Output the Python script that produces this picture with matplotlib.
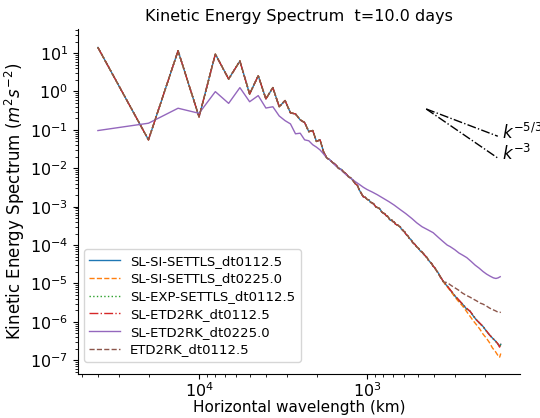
import numpy as np
import matplotlib
matplotlib.use("Agg")
import matplotlib.pyplot as plt
from matplotlib.ticker import LogLocator, NullFormatter

# wavenumbers shared by the five near-identical runs (up to n=114)
n_main = [1, 2, 3, 4, 5, 6, 7, 8, 9, 10, 11, 12, 13, 14, 15, 16, 17, 18, 19, 20,
          21, 22, 23, 24, 25, 26, 27, 28, 29, 30, 31, 32, 33, 34, 35, 36, 37, 38,
          39, 40, 41, 42, 43, 44, 45, 46, 47, 48, 49, 50, 51, 52, 53, 54, 55, 56,
          57, 58, 59, 60, 61, 62, 63, 64, 65, 66, 67, 68, 69, 70, 71, 72, 73, 74,
          75, 77, 79, 81, 83, 85, 87, 89, 91, 93, 95, 97, 99, 101, 104, 106, 109,
          111, 114]
ke_main = [14.0, 0.055, 11.5, 0.218, 9.4, 2.11, 6.2, 0.86, 2.57, 0.64, 1.26, 0.40,
           0.58, 0.277, 0.26, 0.182, 0.155, 0.090, 0.096, 0.050, 0.055, 0.0273,
           0.0187, 0.0166, 0.014, 0.0125, 0.010, 0.0095, 0.008, 0.0072, 0.006,
           0.0056, 0.0048, 0.004, 0.0036, 0.0027, 0.0022, 0.0018, 0.00175, 0.00155,
           1.5e-3, 1.3e-3, 1.25e-3, 1.15e-3, 1.0e-3, 9.5e-4, 9.2e-4, 8.4e-4, 7.2e-4,
           6.8e-4, 6.5e-4, 5.8e-4, 5.6e-4, 5.0e-4, 4.4e-4, 4.5e-4, 4.1e-4, 4.0e-4,
           3.5e-4, 3.4e-4, 3.3e-4, 3.1e-4, 3.0e-4, 2.6e-4, 2.5e-4, 2.3e-4, 2.2e-4,
           1.95e-4, 1.8e-4, 1.75e-4, 1.55e-4, 1.45e-4, 1.4e-4, 1.25e-4, 1.15e-4,
           1.05e-4, 9.0e-5, 8.2e-5, 7.0e-5, 6.6e-5, 5.8e-5, 5.2e-5, 4.7e-5, 4.0e-5,
           3.6e-5, 3.3e-5, 2.8e-5, 2.6e-5, 2.1e-5, 1.9e-5, 1.5e-5, 1.35e-5, 1.1e-5]

# tails (n > 114) where the runs separate
n_tail = [120, 127, 134, 141, 148, 156, 164, 172, 180, 188, 196, 205, 214, 223,
          232, 240, 246, 250]
ke_tail_settls = [8.5e-6, 6.2e-6, 4.6e-6, 3.6e-6, 2.9e-6, 2.2e-6, 1.9e-6, 1.4e-6,
                  1.1e-6, 9.0e-7, 7.6e-7, 5.8e-7, 4.6e-7, 3.8e-7, 3.2e-7, 2.7e-7,
                  2.3e-7, 2.6e-7]
ke_tail_settls_225 = [8.2e-6, 6.0e-6, 4.3e-6, 3.3e-6, 2.6e-6, 1.9e-6, 1.4e-6,
                      1.05e-6, 8.2e-7, 6.4e-7, 4.8e-7, 3.8e-7, 2.9e-7, 2.1e-7,
                      1.7e-7, 1.35e-7, 1.2e-7, 1.5e-7]
ke_tail_exp = [8.6e-6, 6.2e-6, 4.6e-6, 3.6e-6, 2.9e-6, 2.2e-6, 1.9e-6, 1.4e-6,
               1.1e-6, 9.0e-7, 7.6e-7, 5.8e-7, 4.6e-7, 3.8e-7, 3.2e-7, 2.7e-7,
               2.3e-7, 2.6e-7]
ke_tail_etd = [8.6e-6, 6.3e-6, 4.7e-6, 3.7e-6, 2.9e-6, 2.3e-6, 1.9e-6, 1.45e-6,
               1.1e-6, 9.2e-7, 7.6e-7, 5.9e-7, 4.6e-7, 3.8e-7, 3.2e-7, 2.7e-7,
               2.2e-7, 2.8e-7]
ke_tail_etd_only = [1.05e-5, 8.8e-6, 7.6e-6, 6.6e-6, 5.6e-6, 4.9e-6, 4.4e-6, 3.9e-6,
                    3.5e-6, 3.1e-6, 2.9e-6, 2.6e-6, 2.3e-6, 2.1e-6, 1.95e-6, 1.8e-6,
                    1.75e-6, 1.8e-6]

# SL-ETD2RK with the long step
n_etd225 = [1, 2, 3, 4, 5, 6, 7, 8, 9, 10, 11, 12, 13, 14, 15, 16, 17, 18, 19, 20,
            21, 22, 23, 24, 25, 26, 27, 28, 30, 32, 34, 36, 38, 40, 43, 46, 50, 54,
            58, 63, 68, 74, 79, 85, 92, 99, 106, 113, 120, 125, 133, 141, 149, 157,
            166, 176, 186, 196, 206, 216, 226, 234, 241, 248]
ke_etd225 = [0.096, 0.149, 0.366, 0.27, 0.99, 0.49, 1.26, 0.54, 0.78, 0.37, 0.40,
             0.23, 0.174, 0.143, 0.079, 0.082, 0.055, 0.052, 0.041, 0.0355, 0.030,
             0.0238, 0.0187, 0.0166, 0.0139, 0.0116, 0.0103, 0.0091, 6.8e-3, 5.5e-3,
             4.5e-3, 3.8e-3, 3.2e-3, 2.8e-3, 2.4e-3, 2.05e-3, 1.65e-3, 1.35e-3,
             1.1e-3, 8.4e-4, 6.6e-4, 4.9e-4, 3.8e-4, 3.0e-4, 2.5e-4, 2.1e-4, 1.6e-4,
             1.25e-4, 1.0e-4, 9.1e-5, 7.6e-5, 6.2e-5, 5.4e-5, 4.7e-5, 3.8e-5, 3.0e-5,
             2.5e-5, 2.05e-5, 1.75e-5, 1.55e-5, 1.4e-5, 1.35e-5, 1.4e-5, 1.5e-5]

labels = ["SL-SI-SETTLS_dt0112.5", "SL-SI-SETTLS_dt0225.0", "SL-EXP-SETTLS_dt0112.5",
          "SL-ETD2RK_dt0112.5", "SL-ETD2RK_dt0225.0", "ETD2RK_dt0112.5"]
styles = ["-", "--", ":", "-.", "-", "--"]

# reference slopes
n_ref = [90, 240]
ke_ref = 0.35

circ = 40030.0  # km


def wavelength(n):
    return circ / np.asarray(n, dtype=float)


fig, ax = plt.subplots(figsize=(5.4, 4.18), dpi=100)
fig.subplots_adjust(left=0.1444, right=0.963, bottom=0.105, top=0.93)

n_full = n_main + n_tail
series = [
    (n_full, ke_main + ke_tail_settls),
    (n_full, ke_main + ke_tail_settls_225),
    (n_full, ke_main + ke_tail_exp),
    (n_full, ke_main + ke_tail_etd),
    (n_etd225, ke_etd225),
    (n_full, ke_main + ke_tail_etd_only),
]
for i, (n, ke) in enumerate(series):
    ax.plot(wavelength(n), ke, linestyle=styles[i], color="C%d" % i,
            lw=1, label=labels[i])

nr = np.array(n_ref, dtype=float)
ax.plot(wavelength(nr), ke_ref * (nr / nr[0]) ** (-5.0 / 3.0), "k-.", lw=1)
ax.plot(wavelength(nr), ke_ref * (nr / nr[0]) ** (-3.0), "k-.", lw=1)
ax.text(157, ke_ref * (nr[1] / nr[0]) ** (-5.0 / 3.0) * 1.25, "$k^{-5/3}$",
        fontsize=12, va="center", ha="left", clip_on=False)
ax.text(157, ke_ref * (nr[1] / nr[0]) ** (-3.0) * 1.3, "$k^{-3}$",
        fontsize=12, va="center", ha="left", clip_on=False)

ax.set_xscale("log")
ax.set_yscale("log")
ax.set_xlim(5.26e4, 1.23e2)
ax.set_ylim(10 ** -7.36, 10 ** 1.62)
ax.yaxis.set_major_locator(LogLocator(base=10, numticks=20))
ax.yaxis.set_minor_locator(LogLocator(base=10, subs=np.arange(2, 10), numticks=100))
ax.yaxis.set_minor_formatter(NullFormatter())

ax.spines["top"].set_visible(False)
ax.spines["right"].set_visible(False)
ax.tick_params(axis="both", which="major", labelsize=11.5)
ax.tick_params(axis="x", which="major", pad=1.5)

ax.set_title("Kinetic Energy Spectrum  t=10.0 days", fontsize=11.5)
ax.set_xlabel("Horizontal wavelength (km)", fontsize=11, labelpad=0)
ax.set_ylabel("Kinetic Energy Spectrum ($m^2s^{-2}$)", fontsize=12, labelpad=2)
ax.legend(loc="lower left", fontsize=9.5, labelspacing=0.36, handlelength=2.3,
          borderaxespad=0, bbox_to_anchor=(0.0136, 0.036))

fig.savefig("out.png", dpi=100)
